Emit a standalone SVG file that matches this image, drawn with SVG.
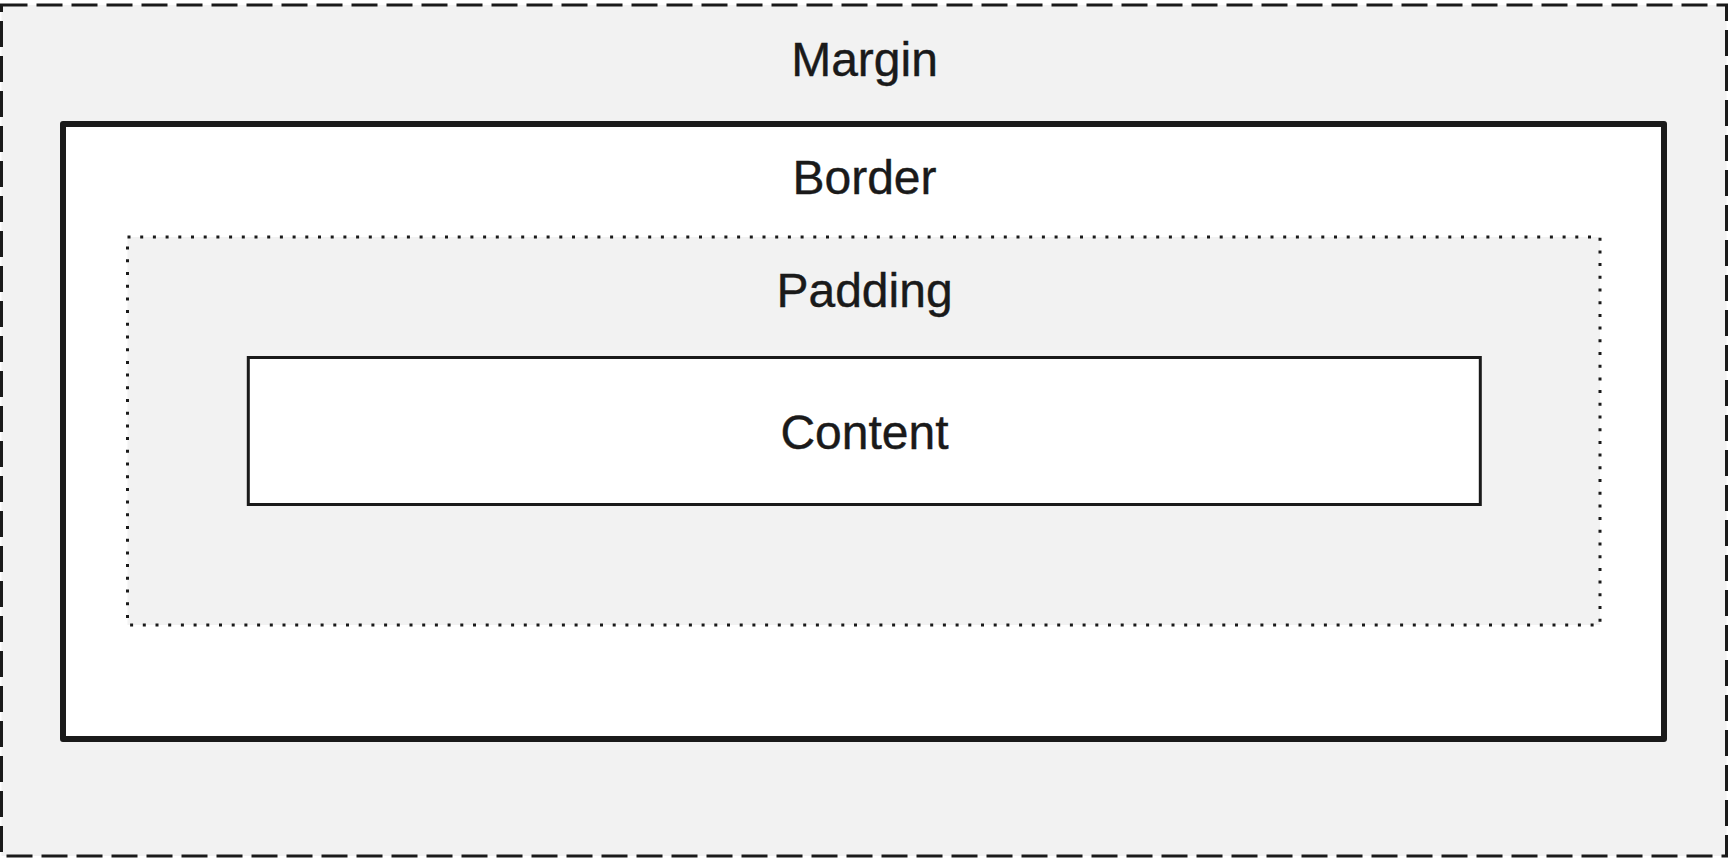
<svg xmlns="http://www.w3.org/2000/svg" width="1729" height="859" viewBox="0 0 1729 859">
<style>
.lbl{font-family:"Liberation Sans",Arial,sans-serif;font-size:48px;fill:#1a1a1a;text-anchor:middle;stroke:#1a1a1a;stroke-width:0.4}
.box{stroke:#1a1a1a}
</style>
<rect width="1729" height="859" fill="#ffffff"/>
<g id="margin">
<rect class="box" x="1.5" y="5" width="1725" height="851" fill="#f2f2f2" stroke-width="3" stroke-dasharray="26 9"/>
<text class="lbl" x="864.5" y="76">Margin</text>
</g>
<g id="border">
<rect class="box" x="63" y="124" width="1601" height="615" fill="#ffffff" stroke-width="6" stroke-linejoin="round"/>
<text class="lbl" x="864.5" y="194">Border</text>
</g>
<g id="padding">
<rect class="box" x="127.5" y="237" width="1472.5" height="388" fill="#f2f2f2" stroke-width="3" stroke-dasharray="3 9.7"/>
<text class="lbl" x="864.5" y="307">Padding</text>
</g>
<g id="content">
<rect class="box" x="248.3" y="357.5" width="1232" height="147" fill="#ffffff" stroke-width="3"/>
<text class="lbl" x="864.5" y="449">Content</text>
</g>
<g id="connectors"/>
</svg>
